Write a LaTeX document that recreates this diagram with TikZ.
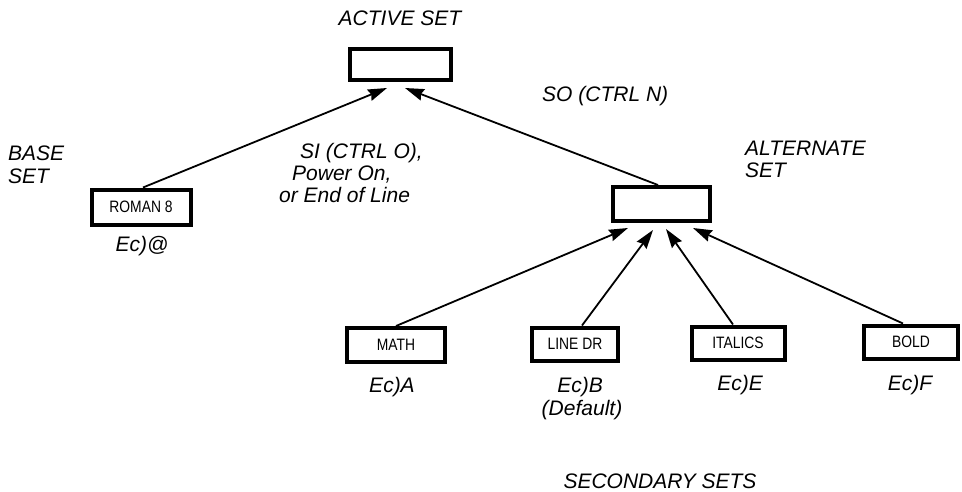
\documentclass[tikz,border=0pt]{standalone}
\usepackage{fontspec}
\setmainfont{Liberation Sans}
\newfontfamily\condfont[FakeStretch=0.84]{Liberation Sans}
\usetikzlibrary{arrows.meta}
\begin{document}
\begin{tikzpicture}[x=1pt,y=-1pt,
  setbox/.style={draw, line width=4pt, inner sep=0pt, font=\condfont\fontsize{16.5}{18}\selectfont},
  lbl/.style={anchor=base, inner sep=0pt, font=\itshape\fontsize{21}{24}\selectfont},
  lblw/.style={lbl, anchor=base west},
  conn/.style={line width=1.8pt, -{Stealth[length=19pt,width=12pt,inset=2pt]}}
]
\path[use as bounding box] (0,0) rectangle (962,491);

% boxes
\node[setbox, minimum width=101pt, minimum height=31pt] (active) at (400,64) {};
\node[setbox, minimum width=99pt, minimum height=35pt] (roman) at (141,207) {ROMAN 8};
\node[setbox, minimum width=97pt, minimum height=34pt] (alt) at (661,204) {};
\node[setbox, minimum width=98pt, minimum height=34pt] (math) at (396,345) {MATH};
\node[setbox, minimum width=86pt, minimum height=33pt] (linedr) at (575,344) {LINE DR};
\node[setbox, minimum width=93pt, minimum height=33pt] (italics) at (738,343) {ITALICS};
\node[setbox, minimum width=94pt, minimum height=33pt] (bold) at (911,342) {BOLD};

% arrow tip points
\coordinate (ta1) at (387,88);
\coordinate (ta2) at (405,88);
\coordinate (tb1) at (628,228);
\coordinate (tb2) at (653,230);
\coordinate (tb3) at (666,229);
\coordinate (tb4) at (693,228);

% connectors
\draw[conn] ([xshift=2pt]roman.north) -- (ta1);
\draw[conn] ([xshift=-3pt]alt.north) -- (ta2);
\draw[conn] (math.north) -- (tb1);
\draw[conn] ([xshift=7pt]linedr.north) -- (tb2);
\draw[conn] ([xshift=-5pt]italics.north) -- (tb3);
\draw[conn] ([xshift=-8pt]bold.north) -- (tb4);

% labels
\node[lbl] (activelbl) at (400,25) {ACTIVE SET};
\node[lblw] (base1) at (8,160) {BASE};
\node[lblw] (base2) at (8,183) {SET};
\node[lblw] (si1) at (300,158) {SI (CTRL O),};
\node[lblw] (si2) at (292,180) {Power On,};
\node[lblw] (si3) at (279,202) {or End of Line};
\node[lblw] (so) at (542,101) {SO (CTRL N)};
\node[lblw] (alt1) at (745,155) {ALTERNATE};
\node[lblw] (alt2) at (745,177) {SET};
\node[lbl] (ecat) at (142,251) {Ec)@};
\node[lbl] (eca) at (392,392) {Ec)A};
\node[lbl] (ecb) at (580,392) {Ec)B};
\node[lbl] (dflt) at (582,415) {(Default)};
\node[lbl] (ece) at (740,390) {Ec)E};
\node[lbl] (ecf) at (910,390) {Ec)F};
\node[lbl] (sec) at (660,488) {SECONDARY SETS};
\end{tikzpicture}
\end{document}
